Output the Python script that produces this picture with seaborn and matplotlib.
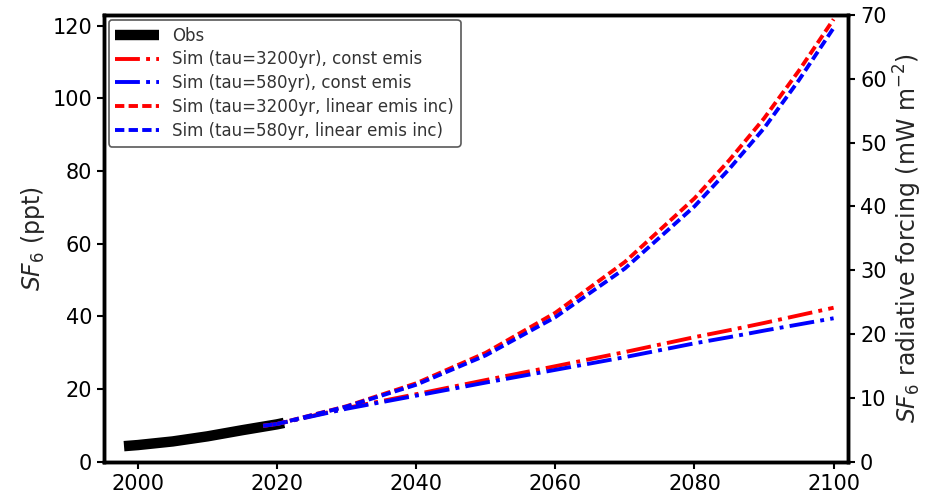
import numpy as np
import pandas as pd
import matplotlib
matplotlib.use('Agg')
import matplotlib.pyplot as plt
import seaborn as sns

# observed SF6 (ppt)
obs_years = [1998, 2000, 2005, 2010, 2015, 2020, 2021]
obs_ppt = [4.3, 4.6, 5.6, 7.0, 8.7, 10.3, 10.7]

# simulated SF6 (ppt)
sim_years = [2018, 2020, 2030, 2040, 2050, 2060, 2070, 2080, 2085, 2090, 2095, 2100]
const_3200 = [9.9, 10.4, 14.8, 18.6, 22.5, 26.3, 30.2, 34.3, 36.2, 38.2, 40.3, 42.4]
const_580 = [9.9, 10.4, 14.6, 18.2, 21.8, 25.3, 28.8, 32.6, 34.3, 36.1, 37.8, 39.5]
linear_3200 = [9.9, 10.4, 15.3, 21.6, 30.0, 41.0, 55.0, 72.5, 83.0, 94.5, 107.6, 121.8]
linear_580 = [9.9, 10.4, 15.2, 21.2, 29.3, 39.8, 53.2, 70.3, 80.6, 91.8, 105.0, 119.4]

sns.set_style('ticks')
plt.rcParams['font.family'] = ['DejaVu Sans']
plt.rcParams['mathtext.fontset'] = 'dejavusans'

fig = plt.figure(figsize=(9.27, 4.96), dpi=100)
ax = fig.add_axes([0.112, 0.069, 0.803, 0.901])

sns.lineplot(x=obs_years, y=obs_ppt, ax=ax, color='black', lw=7.5, label='Obs',
             solid_capstyle='butt')
sns.lineplot(x=sim_years, y=const_3200, ax=ax, color='red', lw=2.8, linestyle='-.',
             label='Sim (tau=3200yr), const emis')
sns.lineplot(x=sim_years, y=const_580, ax=ax, color='blue', lw=2.8, linestyle='-.',
             label='Sim (tau=580yr), const emis')
sns.lineplot(x=sim_years, y=linear_3200, ax=ax, color='red', lw=2.8, dashes=False,
             label='Sim (tau=3200yr, linear emis inc)').lines[-1].set_dashes((2.4, 1.1))
sns.lineplot(x=sim_years, y=linear_580, ax=ax, color='blue', lw=2.8, dashes=False,
             label='Sim (tau=580yr, linear emis inc)').lines[-1].set_dashes((2.4, 1.1))

ax.set_xlim(1995.1, 2102.1)
ax.set_ylim(0, 123)
ax.set_xticks(np.arange(2000, 2101, 20))
ax.set_yticks(np.arange(0, 121, 20))
ax.set_ylabel('$SF_6$ (ppt)', fontsize=17)

leg = ax.legend(loc='upper left', fontsize=12, handlelength=2.6, borderaxespad=0.3,
                framealpha=1, edgecolor='0.35', labelspacing=0.35)
leg.get_frame().set_linewidth(1.2)
for t in leg.get_texts():
    t.set_color('0.2')

ax2 = ax.twinx()
ax2.set_ylim(0, 70)
ax2.set_yticks(np.arange(0, 71, 10))
ax2.set_ylabel('$SF_6$ radiative forcing (mW m$^{-2}$)', fontsize=17)

for a in (ax, ax2):
    for s in a.spines.values():
        s.set_linewidth(2.5)
        s.set_color('black')
        s.set_visible(True)
    a.tick_params(labelsize=15, width=1.5, length=5, colors='black')

fig.savefig('out.png', dpi=100)
